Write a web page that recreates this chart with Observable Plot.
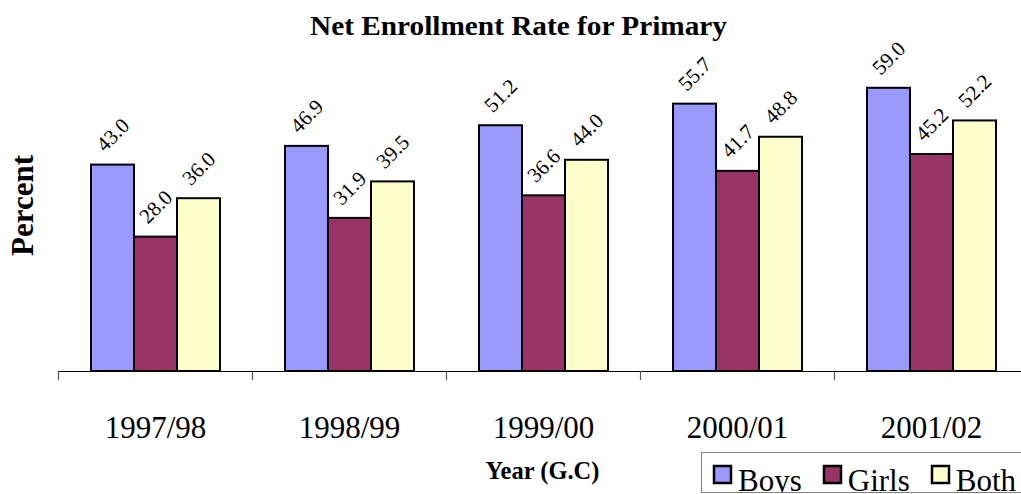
<!DOCTYPE html>
<html>
<head>
<meta charset="utf-8">
<script src="https://cdn.jsdelivr.net/npm/d3@7"></script>
<script src="https://cdn.jsdelivr.net/npm/@observablehq/plot@0.6"></script>
<style>
  html, body { margin: 0; padding: 0; background: #fff; overflow: hidden; }
  #wrap { position: relative; width: 1021px; height: 494px; overflow: hidden; }
  body div.lg-swatches {
    position: absolute; left: 701px; top: 452px; width: 400px; height: 41px;
    box-sizing: border-box; border: 1px solid #808080; margin: 0;
    padding: 12px 0 0 12px; display: flex; flex-wrap: nowrap; align-items: flex-start;
    font: 31px "Liberation Serif", serif; line-height: 31px; color: #000; overflow: hidden; min-height: 0;
  }
  body div.lg-swatches span.lg-swatch {
    display: inline-flex; align-items: flex-start; margin: 0 22px 0 0; line-height: 31px;
  }
  body div.lg-swatches span.lg-swatch svg {
    margin: 1px 7px 0 0; overflow: visible; flex-shrink: 0;
  }
  body div.lg-swatches span.lg-swatch svg rect { stroke: #000; stroke-width: 2.5px; }
</style>
</head>
<body>
<div id="wrap"></div>
<script>
const years = ["1997/98", "1998/99", "1999/00", "2000/01", "2001/02"];
const series = ["Boys", "Girls", "Both"];
const boys = [43.0, 46.9, 51.2, 55.7, 59.0];
const girls = [28.0, 31.9, 36.6, 41.7, 45.2];
const both = [36.0, 39.5, 44.0, 48.8, 52.2];
const colors = ["#9999FF", "#993366", "#FFFFCC"];
const titleText = "Net Enrollment Rate for Primary";
const yLabel = "Percent";
const xLabel = "Year (G.C)";

const values = {Boys: boys, Girls: girls, Both: both};
const data = years.flatMap((year, i) => series.map(s => ({year, series: s, value: values[s][i]})));

const chart = Plot.plot({
  width: 1021,
  height: 494,
  marginTop: 35,
  marginBottom: 123,
  marginLeft: 58,
  marginRight: -7,
  style: {fontFamily: "Liberation Serif", background: "white", color: "black", overflow: "visible"},
  fx: {domain: years, range: [58, 1028], padding: 0, label: null},
  x: {domain: series, paddingInner: 0, paddingOuter: 0.74, axis: null},
  y: {domain: [0, 70], axis: null},
  color: {domain: series, range: colors},
  marks: [
    Plot.barY(data, {fx: "year", x: "series", y: "value", fill: "series", stroke: "black", strokeWidth: 2}),
    Plot.text(data, {fx: "year", x: "series", y: "value", text: d => d.value.toFixed(1),
      rotate: -45, dy: -30, fontSize: 21, lineAnchor: "middle", textAnchor: "middle", fill: "black"}),
    Plot.ruleY([0], {stroke: "black", strokeWidth: 1.2}),
    Plot.frame({anchor: "left", insetTop: 336, insetBottom: -8, stroke: "#555", strokeWidth: 1.2}),
    Plot.axisFx({anchor: "bottom", tickSize: 0, tickPadding: 44, fontSize: 31, label: null, fill: "black"})
  ]
});

const svg = d3.select(chart);
svg.append("text")
  .attr("x", 518.5).attr("y", 35)
  .attr("text-anchor", "middle")
  .attr("font-family", "Liberation Serif").attr("font-weight", "bold").attr("font-size", 27)
  .attr("textLength", 417).attr("lengthAdjust", "spacingAndGlyphs")
  .attr("fill", "black")
  .text(titleText);
svg.append("text")
  .attr("transform", "translate(33,205.5) rotate(-90)")
  .attr("text-anchor", "middle")
  .attr("font-family", "Liberation Serif").attr("font-weight", "bold").attr("font-size", 31)
  .attr("fill", "black")
  .text(yLabel);
svg.append("text")
  .attr("x", 542.5).attr("y", 479)
  .attr("text-anchor", "middle")
  .attr("font-family", "Liberation Serif").attr("font-weight", "bold").attr("font-size", 24.5)
  .attr("fill", "black")
  .text(xLabel);

const wrap = document.getElementById("wrap");
wrap.appendChild(chart);
const legend = Plot.legend({color: {domain: series, range: colors}, swatchSize: 17, className: "lg"});
wrap.appendChild(legend);
</script>
</body>
</html>
